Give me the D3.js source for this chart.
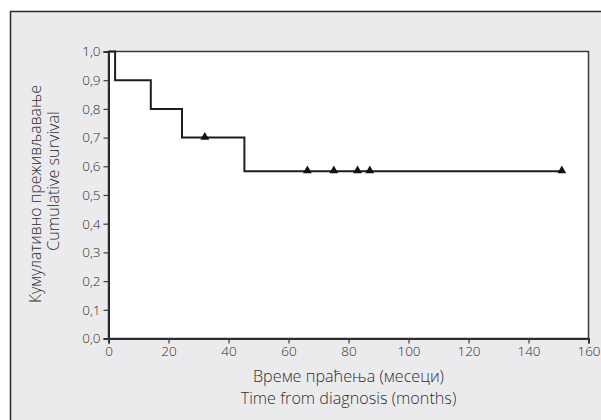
<!DOCTYPE html>
<html>
<head>
<meta charset="utf-8">
<script src="https://cdn.jsdelivr.net/npm/d3@7"></script>
<style>
  body { margin: 0; background: #fff; }
  svg text { font-family: "Open Sans", "Noto Sans", sans-serif; font-weight: 300; fill: #2e2e2e; }
</style>
</head>
<body>
<div id="chart"></div>
<script>
// Kaplan-Meier steps (months, cumulative survival)
var stepTimes = [0, 2.2, 14.1, 24.5, 45.3, 151.1];
var stepSurvival = [1.0, 0.9, 0.8, 0.7, 0.583, 0.583];
// censored observations (months)
var censorTimes = [32.1, 66.3, 75.1, 83.0, 87.1, 151.1];
var xTicks = [0, 20, 40, 60, 80, 100, 120, 140, 160];
var yTicks = [0, 0.1, 0.2, 0.3, 0.4, 0.5, 0.6, 0.7, 0.8, 0.9, 1.0];
var yTitle = ["Кумулативно преживљавање", "Cumulative survival"];
var xTitle = ["Време праћења (месеци)", "Time from diagnosis (months)"];

var width = 601, height = 420;
var margin = {left: 108.5, right: 12.5, top: 51.5, bottom: 81.5};

var svg = d3.select('#chart').append('svg')
    .attr('width', width)
    .attr('height', height);

// outer grey panel
svg.append('rect')
    .attr('x', 10.5).attr('y', 11.5)
    .attr('width', width + 10).attr('height', height + 10)
    .attr('fill', '#ebebed')
    .attr('stroke', '#2b2b2b')
    .attr('stroke-width', 1.5);

var x = d3.scaleLinear().domain([0, 160]).range([margin.left, width - margin.right]);
var y = d3.scaleLinear().domain([0, 1]).range([height - margin.bottom, margin.top]);

// white plot area with top/right frame
svg.append('rect')
    .attr('x', x(0)).attr('y', y(1))
    .attr('width', x(160) - x(0)).attr('height', y(0) - y(1))
    .attr('fill', '#fff')
    .attr('stroke', '#3a3a3a')
    .attr('stroke-width', 1.5);

var comma = d3.formatLocale({decimal: ',', thousands: '.', grouping: [3], currency: ['', '']});

var yAxis = d3.axisLeft(y).tickValues(yTicks).tickSize(5).tickPadding(3).tickFormat(comma.format('.1f'));
var xAxis = d3.axisBottom(x).tickValues(xTicks).tickSize(5).tickPadding(3).tickFormat(d3.format('d'));

var gy = svg.append('g')
    .attr('transform', 'translate(' + x(0) + ',0)')
    .call(yAxis);
var gx = svg.append('g')
    .attr('transform', 'translate(0,' + y(0) + ')')
    .call(xAxis);

[gx, gy].forEach(function(g){
    g.select('.domain').attr('stroke', '#2b2b2b').attr('stroke-width', 2);
    g.selectAll('.tick line').attr('stroke', '#3a3a3a').attr('stroke-width', 1.2);
    g.selectAll('.tick text')
        .attr('font-family', '"Open Sans", "Noto Sans", sans-serif')
        .attr('font-size', 13.5)
        .attr('fill', '#3a3a3a');
});

// survival curve
var points = stepTimes.map(function(t, i){ return {t: t, s: stepSurvival[i]}; });
var line = d3.line()
    .x(function(d){ return x(d.t); })
    .y(function(d){ return y(d.s); })
    .curve(d3.curveStepAfter);

svg.append('path')
    .datum(points)
    .attr('d', line)
    .attr('fill', 'none')
    .attr('stroke', '#1e1e1e')
    .attr('stroke-width', 2);

function survivalAt(t){
    var s = stepSurvival[0];
    for (var i = 0; i < stepTimes.length; i++){
        if (stepTimes[i] <= t) s = stepSurvival[i];
    }
    return s;
}

var tri = d3.symbol().type(d3.symbolTriangle).size(34);
svg.selectAll('.censor')
    .data(censorTimes)
    .enter().append('path')
    .attr('class', 'censor')
    .attr('transform', function(d){ return 'translate(' + x(d) + ',' + (y(survivalAt(d)) - 0.5) + ')'; })
    .attr('d', tri)
    .attr('fill', '#111');

// axis titles
var xMid = (x(0) + x(160)) / 2;
svg.append('text')
    .attr('x', xMid).attr('y', 382)
    .attr('text-anchor', 'middle')
    .attr('font-size', 16.2)
    .text(xTitle[0]);
svg.append('text')
    .attr('x', xMid).attr('y', 404)
    .attr('text-anchor', 'middle')
    .attr('font-size', 16.2)
    .text(xTitle[1]);

svg.append('text')
    .attr('transform', 'translate(41,194) rotate(-90)')
    .attr('text-anchor', 'middle')
    .attr('font-size', 15.8)
    .text(yTitle[0]);
svg.append('text')
    .attr('transform', 'translate(59,181) rotate(-90)')
    .attr('text-anchor', 'middle')
    .attr('font-size', 16.2)
    .text(yTitle[1]);
</script>
</body>
</html>
